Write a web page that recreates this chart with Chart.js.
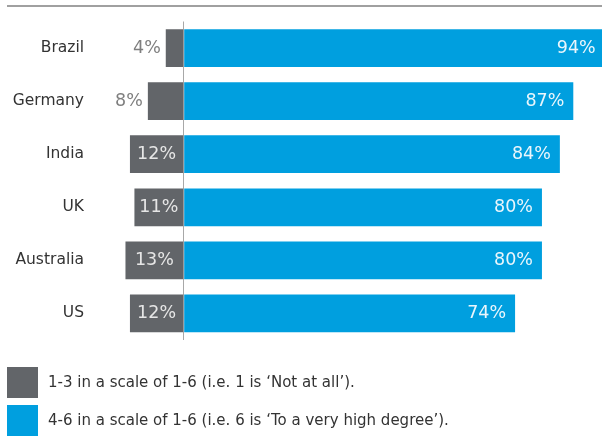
<!DOCTYPE html>
<html>
<head>
<meta charset="utf-8">
<script src="https://cdn.jsdelivr.net/npm/chart.js@4.4.1/dist/chart.umd.min.js"></script>
<style>
  html, body { margin: 0; padding: 0; background: #fff; }
  #wrap { width: 602px; height: 439px; position: relative; }
</style>
</head>
<body>
<div id="wrap"><canvas id="scoreChart"></canvas></div>
<script>
// Answers per country, split at the middle of a 1-6 scale
const countries = ['Brazil', 'Germany', 'India', 'UK', 'Australia', 'US'];
const lowScores = [4, 8, 12, 11, 13, 12];     // 1-3, drawn left of zero
const highScores = [94, 87, 84, 80, 80, 74];  // 4-6, drawn right of zero
const seriesLabels = [
  '1-3 in a scale of 1-6 (i.e. 1 is \u2018Not at all\u2019).',
  '4-6 in a scale of 1-6 (i.e. 6 is \u2018To a very high degree\u2019).'
];

const grey = '#626569';
const blue = '#009fdf';
const font = "'DejaVu Sans', sans-serif";

// value labels, the top rule and the legend squares
const decorations = {
  id: 'decorations',
  beforeDraw(chart) {
    const ctx = chart.ctx;
    ctx.save();
    ctx.strokeStyle = '#808080';
    ctx.lineWidth = 1.5;
    ctx.beginPath();
    ctx.moveTo(7, 6);
    ctx.lineTo(chart.width, 6);
    ctx.stroke();
    ctx.restore();
  },
  afterDatasetsDraw(chart) {
    const ctx = chart.ctx;
    ctx.save();
    ctx.font = '17.5px ' + font;
    ctx.textBaseline = 'middle';

    chart.getDatasetMeta(0).data.forEach((bar, i) => {
      const text = lowScores[i] + '%';
      const w = ctx.measureText(text).width;
      const left = Math.min(bar.x, bar.base);
      const right = Math.max(bar.x, bar.base);
      // short bars get their label outside, in grey
      if (right - left >= w + 9) {
        ctx.textAlign = 'center';
        ctx.fillStyle = '#e6e6e6';
        ctx.fillText(text, (left + right) / 2, bar.y);
      } else {
        ctx.textAlign = 'right';
        ctx.fillStyle = '#7f7f7f';
        ctx.fillText(text, left - 5, bar.y);
      }
    });

    chart.getDatasetMeta(1).data.forEach((bar, i) => {
      ctx.textAlign = 'right';
      ctx.fillStyle = '#eaf6fc';
      ctx.fillText(highScores[i] + '%', bar.x - 9, bar.y);
    });
    ctx.restore();
  },
  afterDraw(chart) {
    const ctx = chart.ctx;
    ctx.save();
    ctx.font = '15px ' + font;
    ctx.textAlign = 'left';
    ctx.textBaseline = 'middle';
    chart.data.datasets.forEach((ds, i) => {
      const y = 367 + i * 38;
      ctx.fillStyle = ds.backgroundColor;
      ctx.fillRect(7, y, 31, 31);
      ctx.fillStyle = '#333333';
      ctx.fillText(ds.label, 48, y + 16);
    });
    ctx.restore();
  }
};

new Chart(document.getElementById('scoreChart'), {
  type: 'bar',
  data: {
    labels: countries,
    datasets: [{
      label: seriesLabels[0],
      data: lowScores.map(v => -v),
      backgroundColor: grey,
      borderWidth: 0
    }, {
      label: seriesLabels[1],
      data: highScores,
      backgroundColor: blue,
      borderWidth: 0
    }]
  },
  options: {
    indexAxis: 'y',
    responsive: true,
    maintainAspectRatio: false,
    animation: false,
    datasets: { bar: { barPercentage: 0.71, categoryPercentage: 1 } },
    layout: { padding: { top: 21.5, bottom: 99, left: 0, right: 0 } },
    plugins: { legend: { display: false }, tooltip: { enabled: false } },
    scales: {
      x: {
        stacked: true,
        min: -22.26,
        max: 93.41,
        ticks: { display: false, stepSize: 10 },
        border: { display: false },
        grid: {
          drawTicks: false,
          color: c => (c.tick && c.tick.value === 0 ? '#a8a8a8' : 'rgba(0,0,0,0)')
        }
      },
      y: {
        stacked: true,
        border: { display: false },
        grid: { display: false, drawTicks: false },
        ticks: { color: '#333333', padding: 0, font: { family: font, size: 15.5 } },
        afterFit: s => { s.width = 84; }
      }
    }
  },
  plugins: [decorations]
});
</script>
</body>
</html>
